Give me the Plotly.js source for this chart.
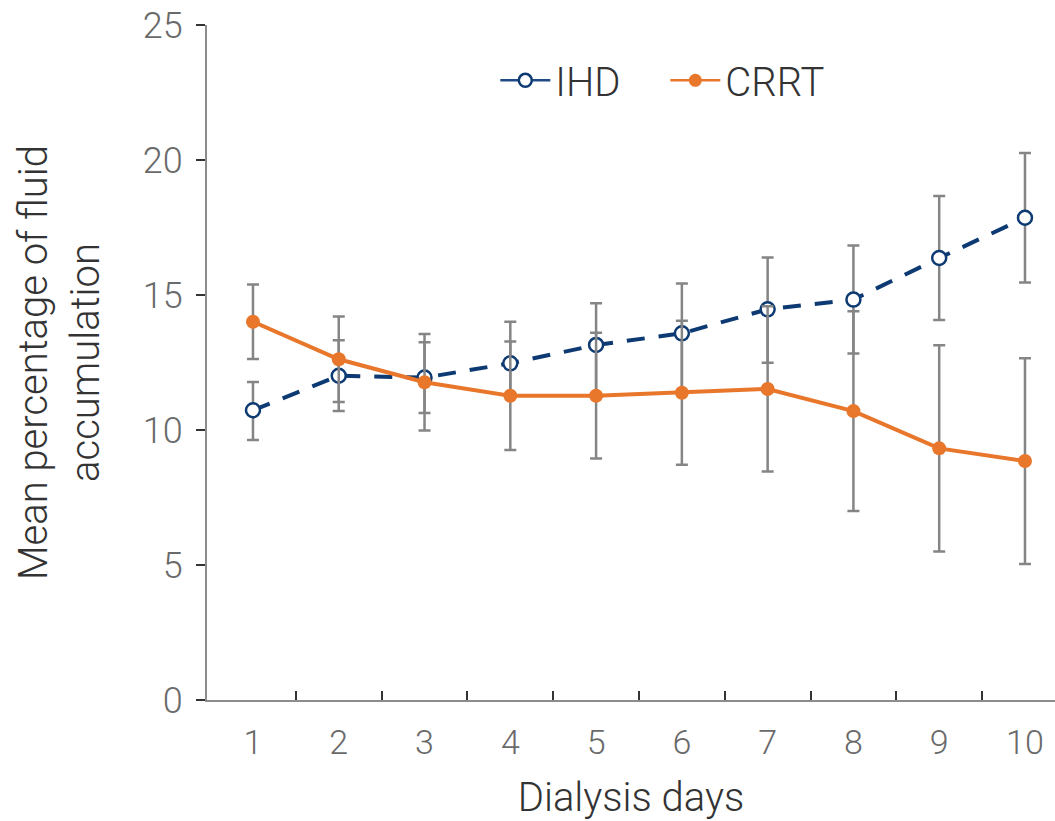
<!DOCTYPE html>
<html>
<head>
<meta charset="utf-8">
<script src="https://cdn.plot.ly/plotly-3.0.1.min.js"></script>
<style>html,body{margin:0;padding:0;background:#fff;}#chart{width:1055px;height:821px;}</style>
</head>
<body>
<div id="chart"></div>
<script>
const days = [1, 2, 3, 4, 5, 6, 7, 8, 9, 10];
const dayLabels = ["1", "2", "3", "4", "5", "6", "7", "8", "9", "10"];
const ihdMean = [10.73, 12.01, 11.94, 12.47, 13.15, 13.58, 14.47, 14.83, 16.37, 17.86];
const ihdErrPlus = [1.05, 1.31, 1.31, 1.54, 1.54, 1.85, 1.92, 2.0, 2.3, 2.4];
const ihdErrMinus = [1.10, 1.31, 1.31, 1.20, 1.85, 2.17, 1.98, 2.0, 2.3, 2.4];
const crrtMean = [14.01, 12.62, 11.77, 11.27, 11.27, 11.38, 11.52, 10.70, 9.32, 8.85];
const crrtErr = [1.38, 1.58, 1.79, 2.01, 2.33, 2.67, 3.06, 3.70, 3.82, 3.81];
const boundaryTicks = [1.5, 2.5, 3.5, 4.5, 5.5, 6.5, 7.5, 8.5, 9.5];
const yTicks = [0, 5, 10, 15, 20, 25];

const FONT = "Roboto, 'DejaVu Sans', sans-serif";
const ihdColor = "#0d3a72";
const crrtColor = "#e8762b";
const errColor = "#858585";

const traces = [
  {
    x: days, y: ihdMean, name: "IHD", type: "scatter", mode: "lines+markers", showlegend: false,
    line: {color: ihdColor, width: 4, dash: "18px,14px"},
    marker: {symbol: "circle", size: 14, color: "#ffffff", line: {color: ihdColor, width: 2.5}},
    error_y: {type: "data", symmetric: false, array: ihdErrPlus, arrayminus: ihdErrMinus, visible: true, color: errColor, thickness: 2.5, width: 6}
  },
  {
    x: days, y: crrtMean, name: "CRRT", type: "scatter", mode: "lines+markers", showlegend: false,
    line: {color: crrtColor, width: 4},
    marker: {symbol: "circle", size: 14, color: crrtColor},
    error_y: {type: "data", array: crrtErr, visible: true, color: errColor, thickness: 2.5, width: 6}
  },
  {
    x: [null], y: [null], name: "IHD", type: "scatter", mode: "lines+markers", showlegend: true,
    line: {color: "#1f4a85", width: 2.5},
    marker: {symbol: "circle", size: 13, color: "#ffffff", line: {color: ihdColor, width: 2.5}}
  },
  {
    x: [null], y: [null], name: "CRRT", type: "scatter", mode: "lines+markers", showlegend: true,
    line: {color: crrtColor, width: 2.5},
    marker: {symbol: "circle", size: 13, color: crrtColor}
  }
];

const layout = {
  width: 1055, height: 821,
  margin: {l: 207, r: 0, t: 25, b: 121},
  paper_bgcolor: "#ffffff", plot_bgcolor: "#ffffff",
  font: {family: FONT, color: "#333333", weight: 300},
  showlegend: true,
  legend: {
    orientation: "h", x: 0.34, y: 0.918, xanchor: "left", yanchor: "middle",
    font: {size: 40, color: "#333333", family: FONT, weight: 300},
    bgcolor: "rgba(0,0,0,0)", itemwidth: 50,
    entrywidth: 105, entrywidthmode: "pixels"
  },
  xaxis: {
    range: [0.464, 10.35], tickmode: "array", tickvals: days, ticktext: dayLabels,
    ticks: "", showgrid: false, zeroline: false,
    showline: true, linecolor: "#8c8c8c", linewidth: 2,
    tickfont: {size: 34, color: "#6a6a6a", family: FONT, weight: 300},
    ticklabelstandoff: 11,
    minor: {tickmode: "array", tickvals: boundaryTicks, ticks: "inside", ticklen: 9, tickwidth: 2, tickcolor: "#333333", showgrid: false},
    title: {text: "Dialysis days", font: {size: 40, color: "#333333", family: FONT, weight: 300}, standoff: 22}
  },
  yaxis: {
    range: [0, 25], tickmode: "array", tickvals: yTicks,
    ticks: "outside", ticklen: 9, tickwidth: 2, tickcolor: "#333333",
    showgrid: false, zeroline: false,
    showline: true, linecolor: "#8c8c8c", linewidth: 2,
    tickfont: {size: 36, color: "#6a6a6a", family: FONT, weight: 300},
    ticklabelstandoff: 6,
    title: {text: "Mean percentage of fluid<br>accumulation", font: {size: 40, color: "#333333", family: FONT, weight: 300}, standoff: 31}
  }
};

Plotly.newPlot("chart", traces, layout, {displayModeBar: false, staticPlot: true});
</script>
</body>
</html>
